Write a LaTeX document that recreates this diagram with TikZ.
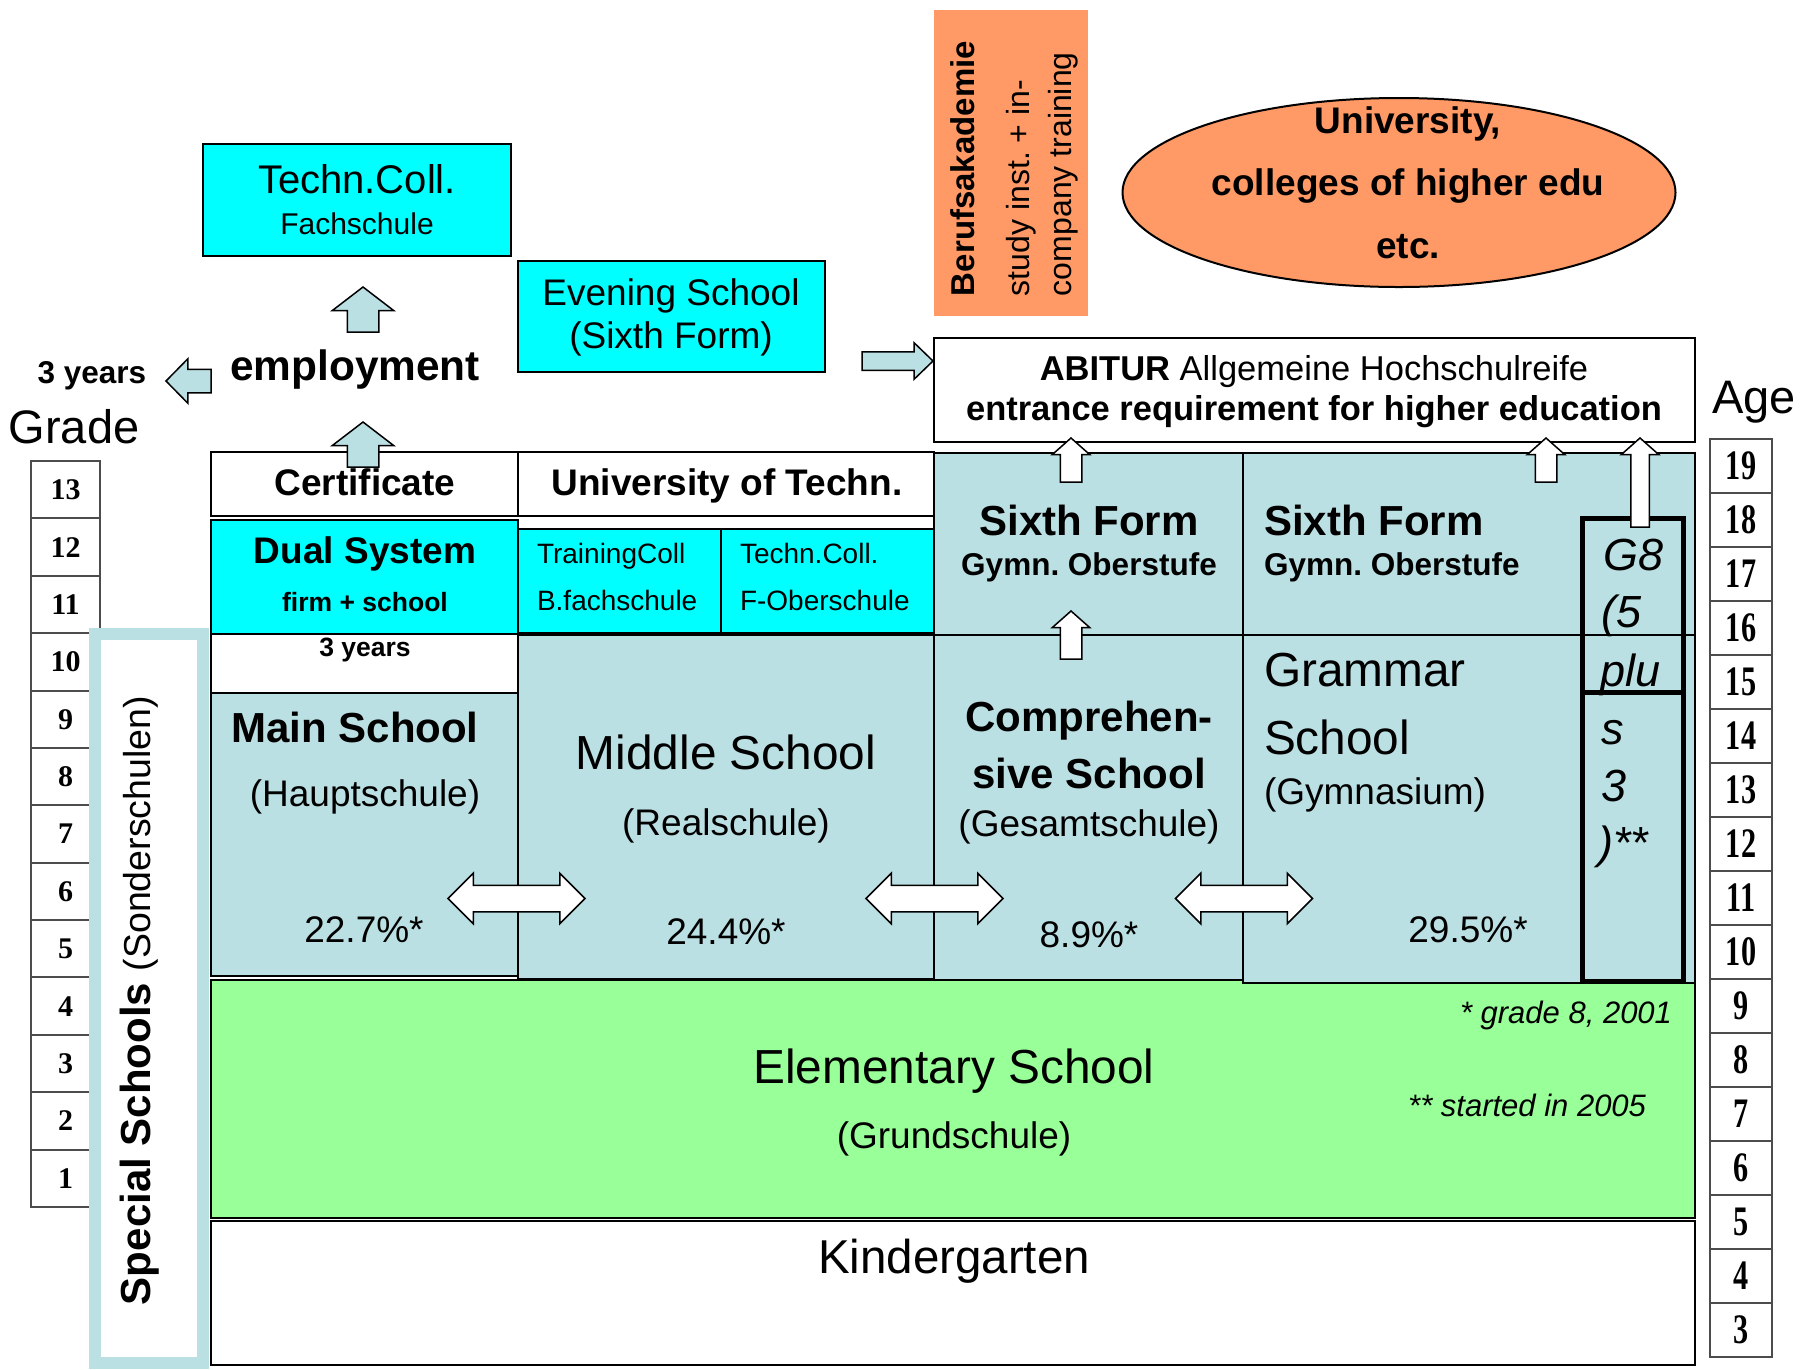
\documentclass[tikz,border=0pt]{standalone}
\usepackage{fontspec}
\setmainfont{Liberation Sans}
\newfontfamily\digfont{Liberation Serif}
\newfontfamily\talldig[FakeStretch=0.72]{Liberation Serif}
\usetikzlibrary{shapes.arrows,shapes.geometric}
\definecolor{cyanbox}{RGB}{0,255,255}
\definecolor{lblue}{RGB}{187,224,227}
\definecolor{lgreen}{RGB}{153,255,153}
\definecolor{salmon}{RGB}{255,153,102}
\newcommand\fs[1]{\fontsize{#1}{#1}\selectfont}
\newcommand\rbox[6][]{\node[boxst,#1,minimum width={#5pt-#3pt},minimum height={#6pt-#4pt}] (#2) at (#3,#4) {};}
\frenchspacing
\begin{document}
\begin{tikzpicture}[x=1pt,y=-1pt,
  boxst/.style={draw=black,line width=2pt,inner sep=0pt,outer sep=0pt,anchor=north west},
  gbox/.style={draw=black!70,line width=2pt,fill=white,inner sep=0pt,outer sep=0pt,anchor=north west},
  txt/.style={inner sep=0pt,outer sep=0pt,anchor=base},
  ltxt/.style={inner sep=0pt,outer sep=0pt,anchor=base west},
  rtxt/.style={inner sep=0pt,outer sep=0pt,anchor=base east},
  vtxt/.style={inner sep=0pt,outer sep=0pt,anchor=base west,rotate=90},
  barrow/.style={single arrow,draw=black,line width=1.5pt,fill=lblue,inner xsep=0pt,outer sep=0pt,single arrow head indent=0pt,anchor=tip},
  warrow/.style={barrow,fill=white},
  dblarrow/.style={double arrow,draw=black,line width=1.5pt,fill=white,inner xsep=0pt,inner ysep=12.5pt,outer sep=0pt,double arrow head indent=0pt}]
\useasboundingbox (0,0) rectangle (1806,1369);
\fill[white] (0,0) rectangle (1806,1369);

% grade column
\foreach \g [count=\i from 0] in {13,12,...,1}{
  \pgfmathsetmacro\yy{461+\i*57.38}
  \node[gbox,minimum width=69pt,minimum height=57.38pt] (grade\g) at (31,\yy) {};
  \node[txt,anchor=center,font=\digfont\bfseries\fs{30}] (gradenum\g) at (grade\g.center) {\g};
}
% age column
\foreach \a [count=\i from 0] in {19,18,...,3}{
  \pgfmathsetmacro\yy{439+\i*54}
  \node[gbox,minimum width=62pt,minimum height=54pt] (age\a) at (1710,\yy) {};
  \node[txt,anchor=center,font=\talldig\bfseries\fs{42}] (agenum\a) at (age\a.center) {\a};
}
% special schools
\node[draw=lblue,line width=12pt,fill=white,inner sep=0pt,outer sep=0pt,anchor=north west,minimum width=108pt,minimum height=729pt] (special) at (95,634) {};

% main blocks
\rbox[fill=white]{kinder}{211}{1221}{1695}{1365}
\rbox[fill=lgreen]{elem}{211}{980}{1695}{1218}
\rbox[fill=white]{cert}{211}{452}{518}{516}
\rbox[fill=white]{unitech}{518}{452}{934}{516}
\rbox[fill=cyanbox]{dual}{211}{520}{518}{634}
\rbox[fill=cyanbox]{train}{518}{528.6}{721}{633}
\rbox[fill=cyanbox]{fober}{721}{528.6}{934}{633}
\rbox[fill=white]{threey}{211}{634}{518}{693}
\rbox[fill=lblue]{mainsch}{211}{693}{518}{976}
\rbox[fill=lblue]{middle}{518}{635}{934}{979}
\rbox[fill=lblue]{sixth3}{934}{452.5}{1243}{635}
\rbox[fill=lblue]{compr}{934}{635}{1243}{980}
\rbox[fill=lblue]{sixth4}{1243}{452.5}{1695}{635}
\rbox[fill=lblue]{gramm}{1243}{635}{1695}{983}
\rbox[line width=5pt]{g8top}{1582.5}{518.5}{1683.5}{692.5}
\rbox[line width=5pt]{g8bot}{1582.5}{692.5}{1683.5}{981}
\rbox[fill=white]{abitur}{934}{338}{1695}{442}
\rbox[fill=cyanbox]{techn}{203}{144}{511}{256}
\rbox[fill=cyanbox]{evening}{518}{261}{825}{372}
\rbox[fill=salmon,draw=none]{berufs}{934}{10}{1088}{316}
\node[ellipse,draw=black,line width=2pt,fill=salmon,inner sep=0pt,outer sep=0pt,minimum width=553pt,minimum height=189pt] (uni) at (1399,192.5) {};

% arrows
\node[barrow,rotate=90,inner ysep=15pt,minimum height=45pt,minimum width=60pt,single arrow head extend=15pt,single arrow tip angle=105] (upemp) at (363,287) {};
\node[barrow,rotate=90,inner ysep=15pt,minimum height=45pt,minimum width=60pt,single arrow head extend=15pt,single arrow tip angle=105] (upcert) at (363,422) {};
\node[barrow,rotate=180,inner ysep=11pt,minimum height=45pt,minimum width=43pt,single arrow head extend=10.5pt,single arrow tip angle=91] (leftarr) at (166,381) {};
\node[barrow,inner ysep=8.5pt,minimum height=71pt,minimum width=35pt,single arrow head extend=9pt,single arrow tip angle=88] (rightarr) at (933,361) {};
\node[warrow,rotate=90,inner ysep=10pt,minimum height=44pt,minimum width=36pt,single arrow head extend=8pt,single arrow tip angle=97] (upa) at (1071,438) {};
\node[warrow,rotate=90,inner ysep=10pt,minimum height=48pt,minimum width=36pt,single arrow head extend=8pt,single arrow tip angle=97] (upb) at (1071,611) {};
\node[warrow,rotate=90,inner ysep=10pt,minimum height=44pt,minimum width=36pt,single arrow head extend=8pt,single arrow tip angle=97] (upc) at (1546,438) {};
\node[warrow,rotate=90,inner ysep=8.5pt,minimum height=89pt,minimum width=36pt,single arrow head extend=9.5pt,single arrow tip angle=97] (upd) at (1640,438) {};
\node[dblarrow,minimum height=137pt,minimum width=49pt,double arrow head extend=12pt,double arrow tip angle=90] (dbla) at (516.5,898.5) {};
\node[dblarrow,minimum height=137pt,minimum width=49pt,double arrow head extend=12pt,double arrow tip angle=90] (dblb) at (934.5,898.5) {};
\node[dblarrow,minimum height=137pt,minimum width=49pt,double arrow head extend=12pt,double arrow tip angle=90] (dblc) at (1244,898.5) {};

% texts top
\node[txt,font=\fs{40}] (tc1) at (357,193) {Techn.Coll.};
\node[txt,font=\fs{30}] (tc2) at (357,234) {Fachschule};
\node[txt,font=\fs{37}] (ev1) at (671,305) {Evening School};
\node[txt,font=\fs{37}] (ev2) at (671,348) {(Sixth Form)};
\node[txt,font=\bfseries\fs{31.5}] (threetop) at (92,383) {3 years};
\node[txt,font=\bfseries\fs{42.4}] (employ) at (355,380) {employment};
\node[txt,font=\fs{47}] (gradelbl) at (74,443) {Grade};
\node[txt,font=\fs{47}] (agelbl) at (1754,413) {Age};
\node[txt,font=\fs{34.5}] (ab1) at (1314,380) {\textbf{ABITUR} Allgemeine Hochschulreife};
\node[txt,font=\bfseries\fs{34.5}] (ab2) at (1314,420) {entrance requirement for higher education};
\node[txt,font=\bfseries\fs{37}] (un1) at (1408,133) {University,};
\node[txt,font=\bfseries\fs{37}] (un2) at (1408,195) {colleges of higher edu};
\node[txt,font=\bfseries\fs{37}] (un3) at (1408,258) {etc.};
\node[vtxt,font=\bfseries\fs{33}] (bk1) at (974,296) {Berufsakademie};
\node[vtxt,font=\fs{32}] (bk2) at (1029,296) {study inst. + in-};
\node[vtxt,font=\fs{32}] (bk3) at (1071,296) {company training};
\node[vtxt,font=\fs{42}] (sstxt) at (150,1305) {\textbf{Special Schools} {\fs{37.5}(Sonderschulen)}};

% texts main
\node[txt,font=\bfseries\fs{37}] (certt) at (365,495) {Certificate};
\node[txt,font=\bfseries\fs{37}] (unitt) at (727,495) {University of Techn.};
\node[txt,font=\bfseries\fs{37}] (dual1) at (365,563) {Dual System};
\node[txt,font=\bfseries\fs{26.5}] (dual2) at (365,611) {firm + school};
\node[txt,font=\bfseries\fs{26.5}] (threeyt) at (365,656) {3 years};
\node[ltxt,font=\fs{28}] (tr1) at (537,563) {TrainingColl};
\node[ltxt,font=\fs{28}] (tr2) at (537,610) {B.fachschule};
\node[ltxt,font=\fs{28}] (fo1) at (740,563) {Techn.Coll.};
\node[ltxt,font=\fs{28}] (fo2) at (740,610) {F-Oberschule};
\node[txt,font=\bfseries\fs{42}] (ms1) at (355,742) {Main School};
\node[txt,font=\fs{37}] (ms2) at (365,806) {(Hauptschule)};
\node[txt,font=\fs{37}] (ms3) at (364,942) {22.7\%*};
\node[txt,font=\fs{47.8}] (md1) at (726,769) {Middle School};
\node[txt,font=\fs{37}] (md2) at (726,835) {(Realschule)};
\node[txt,font=\fs{37}] (md3) at (726,944) {24.4\%*};
\node[txt,font=\bfseries\fs{42}] (sf31) at (1089,535) {Sixth Form};
\node[txt,font=\bfseries\fs{31.5}] (sf32) at (1089,575) {Gymn. Oberstufe};
\node[txt,font=\bfseries\fs{42}] (cp1) at (1089,731) {Comprehen-};
\node[txt,font=\bfseries\fs{42}] (cp2) at (1089,788) {sive School};
\node[txt,font=\fs{37}] (cp3) at (1089,836) {(Gesamtschule)};
\node[txt,font=\fs{37}] (cp4) at (1089,947) {8.9\%*};
\node[ltxt,font=\bfseries\fs{42}] (sf41) at (1264,535) {Sixth Form};
\node[ltxt,font=\bfseries\fs{31.5}] (sf42) at (1264,575) {Gymn. Oberstufe};
\node[ltxt,font=\fs{47.8}] (gr1) at (1264,686) {Grammar};
\node[ltxt,font=\fs{47.8}] (gr2) at (1264,754) {School};
\node[ltxt,font=\fs{37}] (gr3) at (1264,804) {(Gymnasium)};
\node[txt,font=\fs{37}] (gr4) at (1468,942) {29.5\%*};
\node[ltxt,font=\itshape\fs{45}] (g8a) at (1603,570) {G8};
\node[ltxt,font=\itshape\fs{45}] (g8b) at (1601,627.5) {(5};
\node[ltxt,font=\itshape\fs{45}] (g8c) at (1600,686) {plu};
\node[ltxt,font=\itshape\fs{45}] (g8d) at (1601,744) {s};
\node[ltxt,font=\itshape\fs{45}] (g8e) at (1601,801) {3};
\node[ltxt,font=\itshape\fs{45}] (g8f) at (1598,858) {)**};
\node[rtxt,font=\itshape\fs{31}] (note1) at (1672,1023) {* grade 8, 2001};
\node[rtxt,font=\itshape\fs{31}] (note2) at (1646,1116) {** started in 2005};
\node[txt,font=\fs{47.8}] (el1) at (954,1083) {Elementary School};
\node[txt,font=\fs{37}] (el2) at (954,1148) {(Grundschule)};
\node[txt,font=\fs{47.5}] (kg) at (954,1273) {Kindergarten};
\end{tikzpicture}
\end{document}
